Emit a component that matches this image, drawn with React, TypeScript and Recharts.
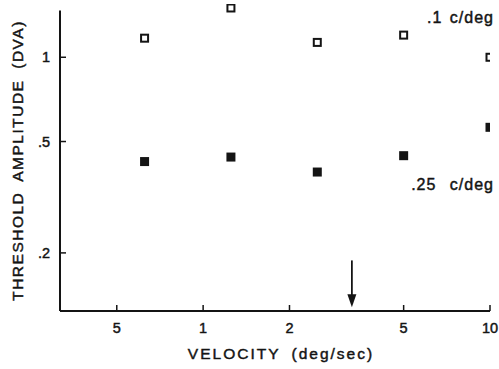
import React from 'react';
import { ScatterChart, Scatter, XAxis, YAxis, ReferenceLine, ReferenceDot } from 'recharts';

// Velocity (deg/sec) of each measurement
const velocities = [0.625, 1.25, 2.5, 5, 10];
// Threshold amplitude (DVA) for .1 c/deg (open squares)
const thresholdLowSF = [1.17, 1.5, 1.13, 1.2, 1.0];
// Threshold amplitude (DVA) for .25 c/deg (filled squares)
const thresholdHighSF = [0.424, 0.44, 0.389, 0.445, 0.562];
const seriesNames = ['.1 c/deg', '.25 c/deg'];

const xTicks = [0.5, 1, 2, 5, 10];
const xTickLabels = ['5', '1', '2', '5', '10'];
const yTicks = [0.2, 0.5, 1];
const yTickLabels = ['.2', '.5', '1'];

const arrowVelocity = 3.3;
const arrowFrom = 0.188;
const arrowTo = 0.128;

const X_DOMAIN: [number, number] = [0.317, 10];
const Y_DOMAIN: [number, number] = [0.124, 1.55];
const Y_AXIS_TOP = 1.47;

const lowData = velocities.map((v, i) => ({ v, t: thresholdLowSF[i] }));
const highData = velocities.map((v, i) => ({ v, t: thresholdHighSF[i] }));

const INK = '#141414';
const FONT = '"Liberation Sans", Arial, Helvetica, sans-serif';
const TEXT_STROKE = 0.45;

const X_MARGIN = 12;
const Y_MARGIN = 10;

const XTick = (props: any) => {
  const { x, y, payload } = props;
  const idx = xTicks.indexOf(payload.value);
  const axisY = y - X_MARGIN;
  return (
    <g>
      <line x1={x} x2={x} y1={axisY} y2={axisY - 6} stroke={INK} strokeWidth={1.5} />
      <text x={x} y={axisY + 22} textAnchor="middle" fontSize={14.5} fill={INK} stroke={INK} strokeWidth={TEXT_STROKE} fontFamily={FONT}>
        {idx >= 0 ? xTickLabels[idx] : ''}
      </text>
    </g>
  );
};

const YTick = (props: any) => {
  const { x, y, payload } = props;
  const idx = yTicks.indexOf(payload.value);
  const axisX = x + Y_MARGIN;
  return (
    <g>
      <line x1={axisX} x2={axisX + 6} y1={y} y2={y} stroke={INK} strokeWidth={1.5} />
      <text x={axisX - 10} y={y + 5} textAnchor="end" fontSize={14.5} fill={INK} stroke={INK} strokeWidth={TEXT_STROKE} fontFamily={FONT}>
        {idx >= 0 ? yTickLabels[idx] : ''}
      </text>
    </g>
  );
};

const OpenSquare = (props: any) => {
  const { cx, cy } = props;
  return <rect x={cx - 3.5} y={cy - 3.5} width={7} height={7} fill="#fff" stroke={INK} strokeWidth={2} />;
};

const FilledSquare = (props: any) => {
  const { cx, cy } = props;
  return <rect x={cx - 4.5} y={cy - 4.5} width={9} height={9} fill={INK} />;
};

const ArrowShape = (props: any) => {
  const { x1, y1, x2, y2 } = props;
  return (
    <g>
      <line x1={x1} y1={y1} x2={x2} y2={y2 - 10} stroke={INK} strokeWidth={1.8} />
      <path d={`M ${x2 - 4.5} ${y2 - 13} L ${x2 + 4.5} ${y2 - 13} L ${x2} ${y2} Z`} fill={INK} />
    </g>
  );
};

const seriesLabel = (text: string, dy: number, wordSpacing: number) => (p: any) => {
  const vb = p.viewBox || {};
  const cx = (vb.x ?? 0) + (vb.width ?? 0) / 2;
  const cy = (vb.y ?? 0) + (vb.height ?? 0) / 2;
  return (
    <text
      x={cx + 4}
      y={cy + dy}
      textAnchor="end"
      fontSize={16}
      fill={INK}
      stroke={INK}
      strokeWidth={TEXT_STROKE}
      fontFamily={FONT}
      letterSpacing={1}
      wordSpacing={wordSpacing}
    >
      {text}
    </text>
  );
};

const XLabel = (p: any) => {
  const vb = p.viewBox || {};
  return (
    <text
      x={vb.x + vb.width / 2 + 6}
      y={vb.y + 48}
      textAnchor="middle"
      fontSize={15.5}
      fill={INK}
      stroke={INK}
      strokeWidth={TEXT_STROKE}
      fontFamily={FONT}
      letterSpacing={2}
      wordSpacing={5}
    >
      VELOCITY (deg/sec)
    </text>
  );
};

const YLabel = (p: any) => {
  const vb = p.viewBox || {};
  const cx = 23;
  const cy = vb.y + vb.height / 2 + 3;
  return (
    <text
      x={cx}
      y={cy}
      transform={`rotate(-90, ${cx}, ${cy})`}
      textAnchor="middle"
      fontSize={15.5}
      fill={INK}
      stroke={INK}
      strokeWidth={TEXT_STROKE}
      fontFamily={FONT}
      letterSpacing={1.5}
      wordSpacing={5}
    >
      THRESHOLD AMPLITUDE (DVA)
    </text>
  );
};

export default function App() {
  return (
    <div style={{ position: 'absolute', left: 0, top: 0, width: 499, height: 369, background: '#fff' }}>
      <ScatterChart width={499} height={369} margin={{ top: 4, right: 9, bottom: 0, left: 0 }}>
        <XAxis
          type="number"
          dataKey="v"
          scale="log"
          domain={X_DOMAIN}
          allowDataOverflow
          ticks={xTicks}
          interval={0}
          height={58}
          tickSize={0}
          tickMargin={X_MARGIN}
          tickLine={false}
          axisLine={{ stroke: INK, strokeWidth: 2 }}
          tick={<XTick />}
          label={<XLabel />}
        />
        <YAxis
          type="number"
          dataKey="t"
          scale="log"
          domain={Y_DOMAIN}
          allowDataOverflow
          ticks={yTicks}
          interval={0}
          width={60}
          tickSize={0}
          tickMargin={Y_MARGIN}
          tickLine={false}
          axisLine={false}
          tick={<YTick />}
          label={<YLabel />}
        />
        <ReferenceLine
          segment={[{ x: X_DOMAIN[0], y: Y_DOMAIN[0] }, { x: X_DOMAIN[0], y: Y_AXIS_TOP }]}
          stroke={INK}
          strokeWidth={2}
          ifOverflow="visible"
        />
        <ReferenceLine
          segment={[{ x: arrowVelocity, y: arrowFrom }, { x: arrowVelocity, y: arrowTo }]}
          stroke={INK}
          ifOverflow="visible"
          shape={<ArrowShape />}
        />
        <Scatter data={lowData} name={seriesNames[0]} shape={<OpenSquare />} isAnimationActive={false} />
        <Scatter data={highData} name={seriesNames[1]} shape={<FilledSquare />} isAnimationActive={false} />
        <ReferenceDot
          x={velocities[velocities.length - 1]}
          y={thresholdLowSF[thresholdLowSF.length - 1]}
          r={0}
          fill="none"
          stroke="none"
          ifOverflow="visible"
          label={seriesLabel(seriesNames[0], -34, 2)}
        />
        <ReferenceDot
          x={velocities[velocities.length - 1]}
          y={thresholdHighSF[thresholdHighSF.length - 1]}
          r={0}
          fill="none"
          stroke="none"
          ifOverflow="visible"
          label={seriesLabel(seriesNames[1], 63, 8)}
        />
      </ScatterChart>
    </div>
  );
}
